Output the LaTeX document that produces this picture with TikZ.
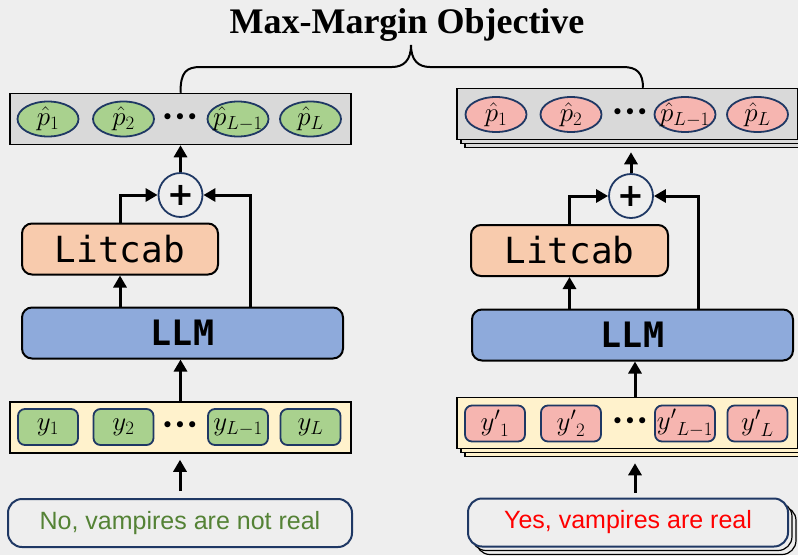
\RequirePackage{fix-cm}
\documentclass[tikz,border=0pt]{standalone}
\usepackage{fontspec}
\usetikzlibrary{arrows.meta,shapes.geometric,shadows}
\newfontfamily\titlefont{Liberation Serif}
\newfontfamily\codefont{DejaVu Sans Mono}
\newfontfamily\answerfont{Liberation Sans}
\newfontfamily\symbolfont{DejaVu Sans}
\definecolor{bgcol}{HTML}{EEEEEE}
\definecolor{boxgray}{HTML}{D9D9D9}
\definecolor{navy}{HTML}{1F3864}
\definecolor{goodgreen}{HTML}{A9D18E}
\definecolor{badred}{HTML}{F6B5B0}
\definecolor{peach}{HTML}{F8CBAD}
\definecolor{llmblue}{HTML}{8EAADB}
\definecolor{tokyellow}{HTML}{FFF2CC}
\definecolor{textgreen}{HTML}{548235}
\tikzset{
  seq box/.style={
    fill=#1,
    draw=black,
    line width=1.5pt,
    minimum width=341pt,
    minimum height=51pt,
    inner sep=0pt,
  },
  stacked/.style={
    copy shadow={shadow xshift=8pt, shadow yshift=-8pt, fill=#1, draw=black, line width=1.2pt},
    copy shadow={shadow xshift=4pt, shadow yshift=-4pt, fill=#1, draw=black, line width=1.2pt},
  },
  prob/.style={
    ellipse,
    fill=#1,
    draw=navy,
    line width=1.8pt,
    minimum width=61pt,
    minimum height=35pt,
    inner xsep=-5pt,
    inner ysep=-1pt,
    font={\fontsize{27}{27}\selectfont},
  },
  token/.style={
    rounded corners=7pt,
    fill=#1,
    draw=navy,
    line width=1.8pt,
    minimum width=60pt,
    minimum height=36pt,
    inner sep=0pt,
    font={\fontsize{27}{27}\selectfont},
  },
  dots/.style={
    inner sep=0pt,
    font={\symbolfont\fontsize{21}{21}\selectfont},
  },
  model box/.style={
    rounded corners=10pt,
    fill=#1,
    draw=black,
    line width=2pt,
    minimum height=51pt,
    inner sep=0pt,
  },
  plus node/.style={
    circle,
    fill=bgcol,
    draw=navy,
    line width=1.8pt,
    minimum size=44pt,
    inner sep=0pt,
    font={\symbolfont\bfseries\fontsize{32}{32}\selectfont},
  },
  answer box/.style={
    rounded corners=14pt,
    fill=bgcol,
    draw=navy,
    line width=2pt,
    minimum height=48pt,
    font={\answerfont\fontsize{25}{25}\selectfont},
  },
  arr/.style={
    -{Triangle[length=12pt,width=13pt]},
    line width=3pt,
  },
  brace line/.style={
    line width=2pt,
  }
}

\begin{document}
\begin{tikzpicture}[x=1pt,y=-1pt]
        \useasboundingbox (0,0) rectangle (798,555);
        \clip (0,0) rectangle (798,555);
        \fill[bgcol] (0,0) rectangle (798,555);

        \node [anchor=base, font={\titlefont\bfseries\fontsize{36}{36}\selectfont}] (title) at (407,33) {Max-Margin Objective};

        % left column: true answer
        \node [seq box=boxgray] (outL) at (180.5,119) {};
        \node [prob=goodgreen] (pL1) at (48,119) {$\hat{p}_1$};
        \node [prob=goodgreen] (pL2) at (123.5,119) {$\hat{p}_2$};
        \node [dots] (pLdots) at (180,119) {•••};
        \node [prob=goodgreen] (pLm) at (238,119) {$\hat{p}_{L-1}$};
        \node [prob=goodgreen] (pLL) at (310.5,119) {$\hat{p}_L$};

        \node [plus node] (plusL) at (180.5,195) {+};
        \node [model box=peach, minimum width=196pt, font={\codefont\fontsize{36}{36}\selectfont}] (litcabL) at (120,249) {Litcab};
        \node [model box=llmblue, minimum width=321pt, font={\codefont\bfseries\fontsize{35}{35}\selectfont}] (llmL) at (182.5,333) {LLM};

        \node [seq box=tokyellow] (inL) at (180.5,427.5) {};
        \node [token=goodgreen] (yL1) at (48,427) {$y_1$};
        \node [token=goodgreen] (yL2) at (123.5,427) {$y_2$};
        \node [dots] (yLdots) at (180,427) {•••};
        \node [token=goodgreen] (yLm) at (238,427) {$y_{L-1}$};
        \node [token=goodgreen] (yLL) at (310.5,427) {$y_L$};

        \node [answer box, minimum width=344pt, text=textgreen] (ansL) at (180,523) {No, vampires are not real};

        \draw[arr] (plusL.north) -- (plusL.north |- outL.south);
        \draw[arr] (litcabL.north) |- (plusL.west);
        \draw[arr] ([xshift=67.5pt]llmL.north) |- (plusL.east);
        \draw[arr] (litcabL.south |- llmL.north) -- (litcabL.south);
        \draw[arr] (inL.north) -- (inL.north |- llmL.south);
        \draw[arr, shorten <=7pt, shorten >=6pt] (ansL.north) -- (ansL.north |- inL.south);

        % right column: sampled wrong answers
        \node [seq box=boxgray, stacked=boxgray] (outR) at (627.5,114) {};
        \node [prob=badred] (pR1) at (496,114.5) {$\hat{p}_1$};
        \node [prob=badred] (pR2) at (571,114.5) {$\hat{p}_2$};
        \node [dots] (pRdots) at (630,114.5) {•••};
        \node [prob=badred] (pRm) at (685,114.5) {$\hat{p}_{L-1}$};
        \node [prob=badred] (pRL) at (757.5,114.5) {$\hat{p}_L$};

        \node [plus node] (plusR) at (631,196) {+};
        \node [model box=peach, minimum width=197pt, font={\codefont\fontsize{36}{36}\selectfont}] (litcabR) at (569.5,250.5) {Litcab};
        \node [model box=llmblue, minimum width=321pt, font={\codefont\bfseries\fontsize{35}{35}\selectfont}] (llmR) at (632.5,335) {LLM};

        \node [seq box=tokyellow, stacked=tokyellow] (inR) at (627.5,423) {};
        \node [token=badred] (yR1) at (495,423.5) {${y'}_{1}$};
        \node [token=badred] (yR2) at (571,423.5) {${y'}_{2}$};
        \node [dots] (yRdots) at (630,423.5) {•••};
        \node [token=badred] (yRm) at (685,423.5) {${y'}_{L-1}$};
        \node [token=badred] (yRL) at (757.5,423.5) {${y'}_{L}$};

        \node [answer box, stacked=bgcol, minimum width=320pt, text=red] (ansR) at (628,522.5) {Yes, vampires are real};

        \draw[arr, shorten >=12pt] (plusR.north) -- (plusR.north |- outR.south);
        \draw[arr] (litcabR.north) |- (plusR.west);
        \draw[arr] ([xshift=65.5pt]llmR.north) |- (plusR.east);
        \draw[arr] (litcabR.south |- llmR.north) -- (litcabR.south);
        \draw[arr] ([xshift=7.5pt]inR.north) -- ([xshift=7.5pt]inR.north |- llmR.south);
        \draw[arr, shorten <=5pt, shorten >=14pt] ([xshift=7pt]ansR.north) -- ([xshift=7pt]ansR.north |- inR.south);

        % objective brace over both outputs
        \coordinate (braceL) at (outL.north);
        \coordinate (braceR) at ([xshift=15.5pt]outR.north);
        \draw[brace line] (braceL) .. controls (180.5,72) and (186,67) .. (201,67) -- (392,67)
            .. controls (404,67) and (411,60) .. (411,45) .. controls (411,60) and (418,67) .. (430,67)
            -- (623,67) .. controls (637,67) and (643,73) .. (braceR);
\end{tikzpicture}
\end{document}
